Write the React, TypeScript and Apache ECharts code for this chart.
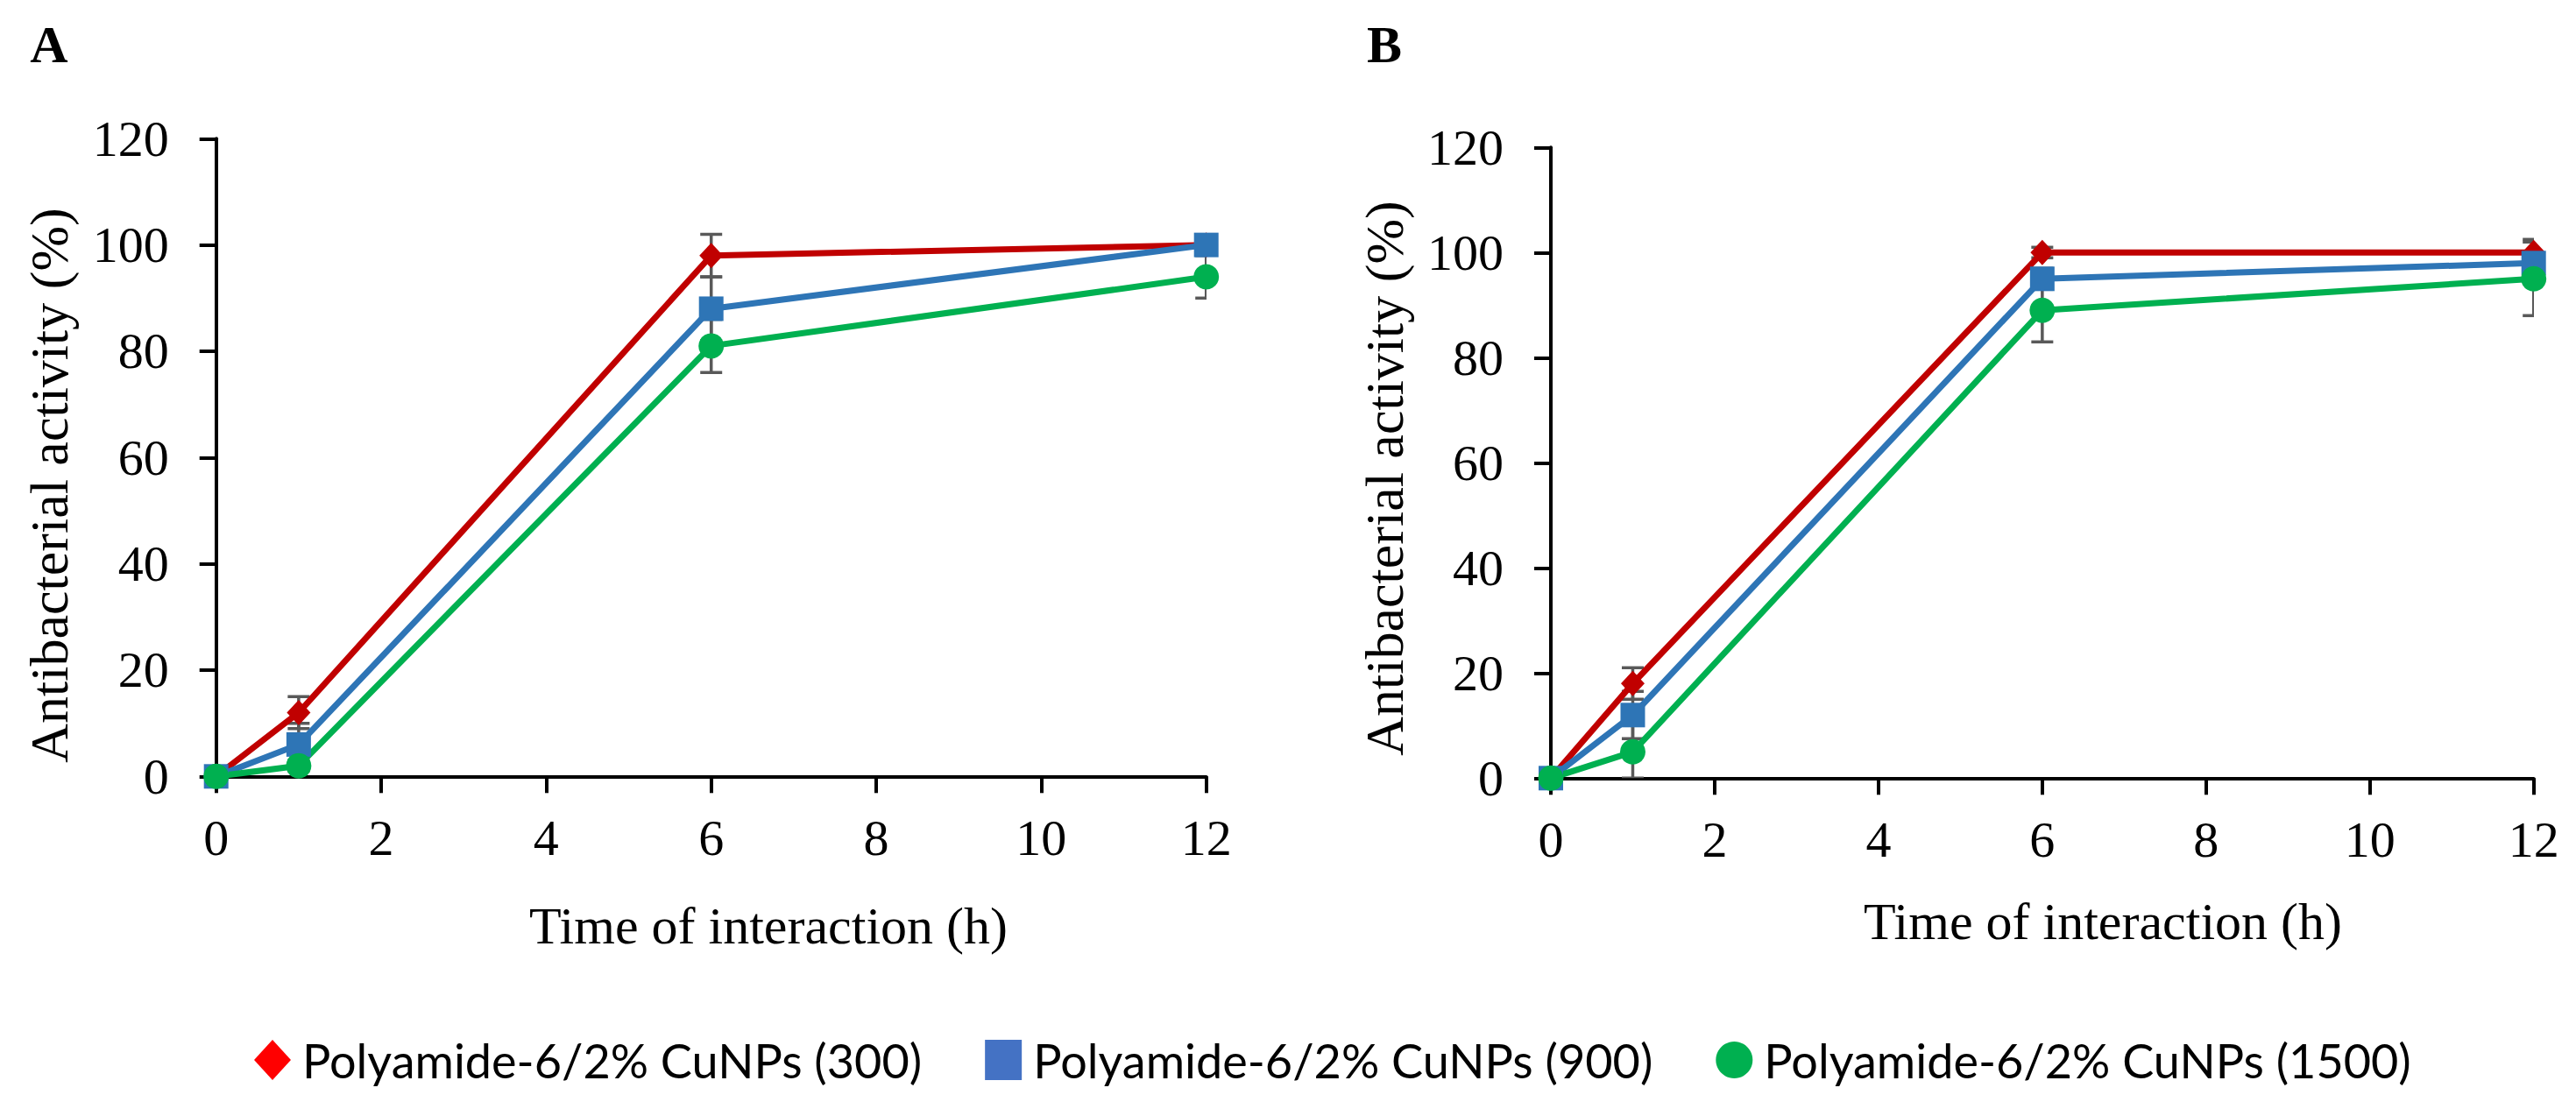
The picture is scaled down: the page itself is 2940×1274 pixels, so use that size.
import React, { useEffect, useRef } from 'react';
import * as echarts from 'echarts';

// ---- data ----
const TIMES = [0, 1, 6, 12];
const SERIES_NAMES = [
  'Polyamide-6/2% CuNPs (300)',
  'Polyamide-6/2% CuNPs (900)',
  'Polyamide-6/2% CuNPs (1500)',
];
const PANEL_LABELS = ['A', 'B'];
const X_TITLE = 'Time of interaction (h)';
const Y_TITLE = 'Antibacterial activity (%)';

// Panel A
const A_300 = [0, 12, 98, 100];
const A_300_ERR = [0, 3, 4, 0];
const A_900 = [0, 6, 88, 100];
const A_900_ERR = [0, 4, 6, 0];
const A_1500 = [0, 2, 81, 94];
const A_1500_ERR = [0, 1, 5, 4];

// Panel B
const B_300 = [0, 18, 100, 100];
const B_300_ERR = [0, 3, 1, 2.5];
const B_900 = [0, 12, 95, 98];
const B_900_ERR = [0, 4.5, 2, 1];
const B_1500 = [0, 5, 89, 95];
const B_1500_ERR = [0, 5, 6, 7];

const PANELS = [
  { values: [A_300, A_900, A_1500], errs: [A_300_ERR, A_900_ERR, A_1500_ERR] },
  { values: [B_300, B_900, B_1500], errs: [B_300_ERR, B_900_ERR, B_1500_ERR] },
];

// ---- styles ----
const LINE_COLORS = ['#C00000', '#2E75B6', '#00B050'];
const LEGEND_COLORS = ['#FF0000', '#4472C4', '#00B050'];
const SYMBOLS = ['diamond', 'rect', 'circle'];
const SYMBOL_SIZES: any[] = [[27, 29], 28, 29];
const SERIF = "'Liberation Serif', 'Times New Roman', serif";

const GRIDS = [
  { left: 246.7, top: 158.3, width: 1130, height: 728 },
  { left: 1770, top: 168.3, width: 1121.7, height: 720 },
];

function errorSeries(gridIdx: number, values: number[], errs: number[]) {
  return {
    type: 'custom',
    xAxisIndex: gridIdx,
    yAxisIndex: gridIdx,
    clip: true,
    silent: true,
    z: 1,
    data: TIMES.map((t, i) => [t, values[i], errs[i]]),
    encode: { x: 0, y: 1 },
    renderItem: (_params: any, api: any) => {
      const x = api.value(0);
      const y = api.value(1);
      const e = api.value(2);
      if (!e) return { type: 'group', children: [] };
      const top = api.coord([x, y + e]);
      const bot = api.coord([x, y - e]);
      const hw = 12.5;
      const style = { stroke: '#595959', lineWidth: 3.5 };
      return {
        type: 'group',
        children: [
          { type: 'line', shape: { x1: top[0], y1: top[1], x2: bot[0], y2: bot[1] }, style },
          { type: 'line', shape: { x1: top[0] - hw, y1: top[1], x2: top[0] + hw, y2: top[1] }, style },
          { type: 'line', shape: { x1: bot[0] - hw, y1: bot[1], x2: bot[0] + hw, y2: bot[1] }, style },
        ],
      };
    },
  };
}

function lineSeries(gridIdx: number, k: number, values: number[]) {
  return {
    type: 'line',
    name: SERIES_NAMES[k],
    xAxisIndex: gridIdx,
    yAxisIndex: gridIdx,
    z: 2,
    data: TIMES.map((t, i) => [t, values[i]]),
    symbol: SYMBOLS[k],
    symbolSize: SYMBOL_SIZES[k],
    showAllSymbol: true,
    lineStyle: { color: LINE_COLORS[k], width: 7 },
    itemStyle: { color: LINE_COLORS[k] },
    emphasis: { disabled: true },
  };
}

function axisCommon() {
  return {
    axisLine: { show: true, lineStyle: { color: '#000', width: 4 } },
    axisTick: { show: true, inside: false, length: 19, lineStyle: { color: '#000', width: 4 } },
    splitLine: { show: false },
  };
}

export default function App() {
  const ref = useRef<HTMLDivElement>(null);

  useEffect(() => {
    if (!ref.current) return;
    const chart = echarts.init(ref.current, undefined, { renderer: 'svg' });

    const series: any[] = [];
    PANELS.forEach((p, g) => {
      p.values.forEach((v, k) => series.push(errorSeries(g, v, p.errs[k])));
    });
    PANELS.forEach((p, g) => {
      p.values.forEach((v, k) => series.push(lineSeries(g, k, v)));
    });

    const xTitlePos = [
      [877, 1057],
      [2400, 1052],
    ];
    const yTitlePos = [
      [56, 554],
      [1580, 546],
    ];
    const panelLabelPos = [
      [56, 51],
      [1580, 51],
    ];

    const graphics: any[] = [];
    PANEL_LABELS.forEach((lab, i) => {
      graphics.push({
        type: 'text',
        x: panelLabelPos[i][0],
        y: panelLabelPos[i][1],
        style: {
          text: lab,
          fontFamily: SERIF,
          fontWeight: 'bold',
          fontSize: 60,
          fill: '#000',
          align: 'center',
          verticalAlign: 'middle',
        },
      });
      graphics.push({
        type: 'text',
        x: xTitlePos[i][0],
        y: xTitlePos[i][1],
        style: {
          text: X_TITLE,
          fontFamily: SERIF,
          fontSize: 60,
          fill: '#000',
          align: 'center',
          verticalAlign: 'middle',
        },
      });
      graphics.push({
        type: 'text',
        x: yTitlePos[i][0],
        y: yTitlePos[i][1],
        rotation: Math.PI / 2,
        style: {
          text: Y_TITLE,
          fontFamily: SERIF,
          fontSize: 62,
          fill: '#000',
          align: 'center',
          verticalAlign: 'middle',
        },
      });
    });

    chart.setOption({
      animation: false,
      backgroundColor: '#fff',
      grid: GRIDS.map((g) => ({ ...g, containLabel: false })),
      xAxis: GRIDS.map((_g, i) => ({
        type: 'value',
        gridIndex: i,
        min: 0,
        max: 12,
        interval: 2,
        ...axisCommon(),
        axisLabel: { margin: 41, fontFamily: SERIF, fontSize: 58, color: '#000' },
      })),
      yAxis: GRIDS.map((_g, i) => ({
        type: 'value',
        gridIndex: i,
        min: 0,
        max: 120,
        interval: 20,
        ...axisCommon(),
        axisLabel: { margin: 54, fontFamily: SERIF, fontSize: 58, color: '#000' },
      })),
      legend: {
        show: true,
        selectedMode: false,
        left: 285,
        top: 1178,
        itemWidth: 42,
        itemHeight: 46,
        itemGap: 72,
        data: SERIES_NAMES.map((n, i) => ({
          name: n,
          icon: SYMBOLS[i],
          itemStyle: { color: LEGEND_COLORS[i] },
        })),
        textStyle: {
          fontFamily: 'Lato, sans-serif',
          fontSize: 54,
          color: '#000',
          padding: [0, 0, 0, 8],
        },
      },
      graphic: graphics,
      series,
    });

    return () => {
      chart.dispose();
    };
  }, []);

  return (
    <div
      ref={ref}
      style={{ position: 'fixed', left: 0, top: 0, width: 2940, height: 1274, background: '#fff' }}
    />
  );
}
